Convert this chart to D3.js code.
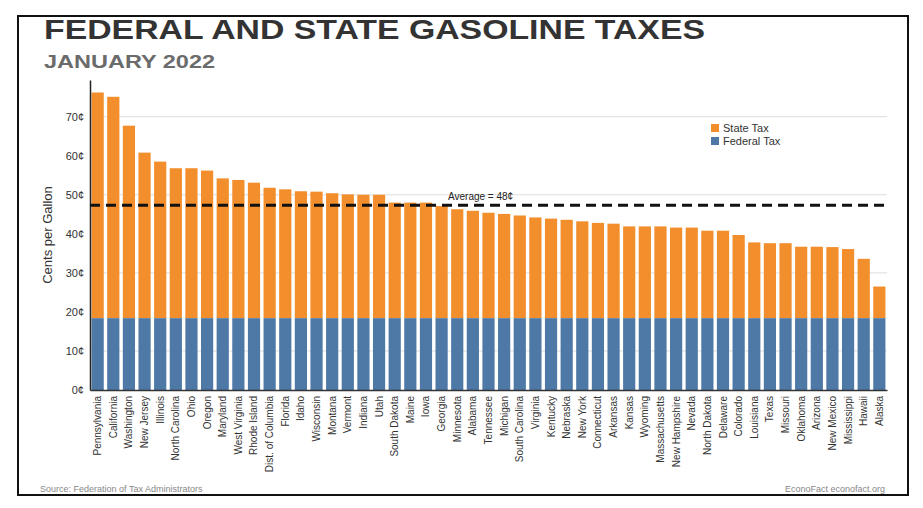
<!DOCTYPE html>
<html>
<head>
<meta charset="utf-8">
<script src="https://cdn.jsdelivr.net/npm/d3@7"></script>
<style>
  body { margin: 0; background: #fff; font-family: "Liberation Sans", Arial, sans-serif; }
  svg { display: block; }
</style>
</head>
<body>
<svg id="chart"></svg>
<script>
const width = 923;
const height = 508;
const federal = 18.4;

// total tax per state, cents per gallon
const data = [
    ["Pennsylvania", 76.2], ["California", 75.1], ["Washington", 67.7],
    ["New Jersey", 60.8], ["Illinois", 58.5], ["North Carolina", 56.8],
    ["Ohio", 56.8], ["Oregon", 56.2], ["Maryland", 54.2],
    ["West Virginia", 53.8], ["Rhode Island", 53.1], ["Dist. of Columbia", 51.8],
    ["Florida", 51.4], ["Idaho", 50.9], ["Wisconsin", 50.8],
    ["Montana", 50.4], ["Vermont", 50.1], ["Indiana", 50.0],
    ["Utah", 50.0], ["South Dakota", 48.0], ["Maine", 48.0],
    ["Iowa", 48.0], ["Georgia", 47.1], ["Minnesota", 46.3],
    ["Alabama", 45.9], ["Tennessee", 45.4], ["Michigan", 45.1],
    ["South Carolina", 44.7], ["Virginia", 44.2], ["Kentucky", 43.9],
    ["Nebraska", 43.6], ["New York", 43.2], ["Connecticut", 42.8],
    ["Arkansas", 42.6], ["Kansas", 41.9], ["Wyoming", 41.9],
    ["Massachusetts", 41.9], ["New Hampshire", 41.6], ["Nevada", 41.6],
    ["North Dakota", 40.8], ["Delaware", 40.8], ["Colorado", 39.7],
    ["Louisiana", 37.8], ["Texas", 37.6], ["Missouri", 37.6],
    ["Oklahoma", 36.7], ["Arizona", 36.7], ["New Mexico", 36.6],
    ["Mississippi", 36.1], ["Hawaii", 33.6], ["Alaska", 26.5],
].map(([state, total]) => ({ state, total }));

const svg = d3.select("#chart").attr("width", width).attr("height", height);

// outer frame
svg.append("rect")
    .attr("x", 18).attr("y", 16)
    .attr("width", 890).attr("height", 479)
    .attr("fill", "none").attr("stroke", "#111").attr("stroke-width", 2);

svg.append("text")
    .attr("x", 44).attr("y", 39)
    .attr("font-size", 27).attr("font-weight", "bold").attr("fill", "#333")
    .attr("textLength", 661).attr("lengthAdjust", "spacingAndGlyphs")
    .text("FEDERAL AND STATE GASOLINE TAXES");

svg.append("text")
    .attr("x", 44).attr("y", 68)
    .attr("font-size", 19).attr("font-weight", "bold").attr("fill", "#6b6b6b")
    .attr("textLength", 171).attr("lengthAdjust", "spacingAndGlyphs")
    .text("JANUARY 2022");

const margin = { left: 90, right: 887, top: 80, bottom: 390 };

const x = d3.scaleBand()
    .domain(data.map((d) => d.state))
    .range([margin.left, margin.right])
    .paddingInner(0.22)
    .paddingOuter(0.1);

const y = d3.scaleLinear()
    .domain([0, 79.4])
    .range([margin.bottom, margin.top]);

// gridlines
svg.append("g")
    .selectAll("line")
    .data([10, 30, 50, 70])
    .join("line")
    .attr("x1", margin.left).attr("x2", margin.right)
    .attr("y1", (d) => y(d)).attr("y2", (d) => y(d))
    .attr("stroke", "#ddd").attr("stroke-width", 1);

const bars = svg.append("g");

bars.selectAll("rect.state")
    .data(data)
    .join("rect")
    .attr("class", "state")
    .attr("x", (d) => x(d.state))
    .attr("width", x.bandwidth())
    .attr("y", (d) => y(d.total))
    .attr("height", (d) => y(federal) - y(d.total))
    .attr("fill", "#f28e2b");

bars.selectAll("rect.fed")
    .data(data)
    .join("rect")
    .attr("class", "fed")
    .attr("x", (d) => x(d.state))
    .attr("width", x.bandwidth())
    .attr("y", y(federal))
    .attr("height", y(0) - y(federal))
    .attr("fill", "#4e79a7");

// y axis
const yAxis = svg.append("g")
    .attr("transform", `translate(${margin.left},0)`)
    .call(d3.axisLeft(y).tickValues(d3.range(0, 80, 10)).tickSize(0).tickPadding(6)
        .tickFormat((d) => d + "¢"));
yAxis.select(".domain").attr("stroke", "#222").attr("stroke-width", 1.5);
yAxis.selectAll("text").attr("font-size", 11).attr("fill", "#333")
    .attr("font-family", "Liberation Sans, Arial, sans-serif");

svg.append("text")
    .attr("transform", "translate(52,235) rotate(-90)")
    .attr("text-anchor", "middle")
    .attr("font-size", 13).attr("fill", "#333")
    .text("Cents per Gallon");

// x axis
const xAxis = svg.append("g")
    .attr("transform", `translate(0,${margin.bottom})`)
    .call(d3.axisBottom(x).tickSize(0).tickPadding(0));
xAxis.select(".domain").attr("stroke", "#333").attr("stroke-width", 1.5);
xAxis.selectAll("text")
    .attr("transform", "rotate(-90)")
    .attr("text-anchor", "end")
    .attr("x", -6).attr("y", 0).attr("dy", "0.35em")
    .attr("font-size", 10).attr("fill", "#333")
    .attr("font-family", "Liberation Sans, Arial, sans-serif");

// average line
const avg = 47.3;
svg.append("line")
    .attr("x1", margin.left).attr("x2", margin.right)
    .attr("y1", y(avg)).attr("y2", y(avg))
    .attr("stroke", "#111").attr("stroke-width", 3)
    .attr("stroke-dasharray", "10,6");
svg.append("text")
    .attr("x", 448).attr("y", y(avg) - 5)
    .attr("font-size", 10).attr("fill", "#222")
    .text("Average = 48¢");

// legend
const legend = svg.append("g").attr("transform", "translate(711,124)");
[["State Tax", "#f28e2b"], ["Federal Tax", "#4e79a7"]].forEach(([name, c], i) => {
    const row = legend.append("g").attr("transform", `translate(0, ${i * 13})`);
    row.append("rect").attr("width", 8).attr("height", 8).attr("fill", c);
    row.append("text").attr("x", 12).attr("y", 8)
        .attr("font-size", 11).attr("fill", "#333").text(name);
});

svg.append("text")
    .attr("x", 40).attr("y", 492)
    .attr("font-size", 9).attr("fill", "#888")
    .text("Source: Federation of Tax Administrators");

svg.append("text")
    .attr("x", 885).attr("y", 492).attr("text-anchor", "end")
    .attr("font-size", 9).attr("fill", "#888")
    .text("EconoFact econofact.org");
</script>
</body>
</html>
